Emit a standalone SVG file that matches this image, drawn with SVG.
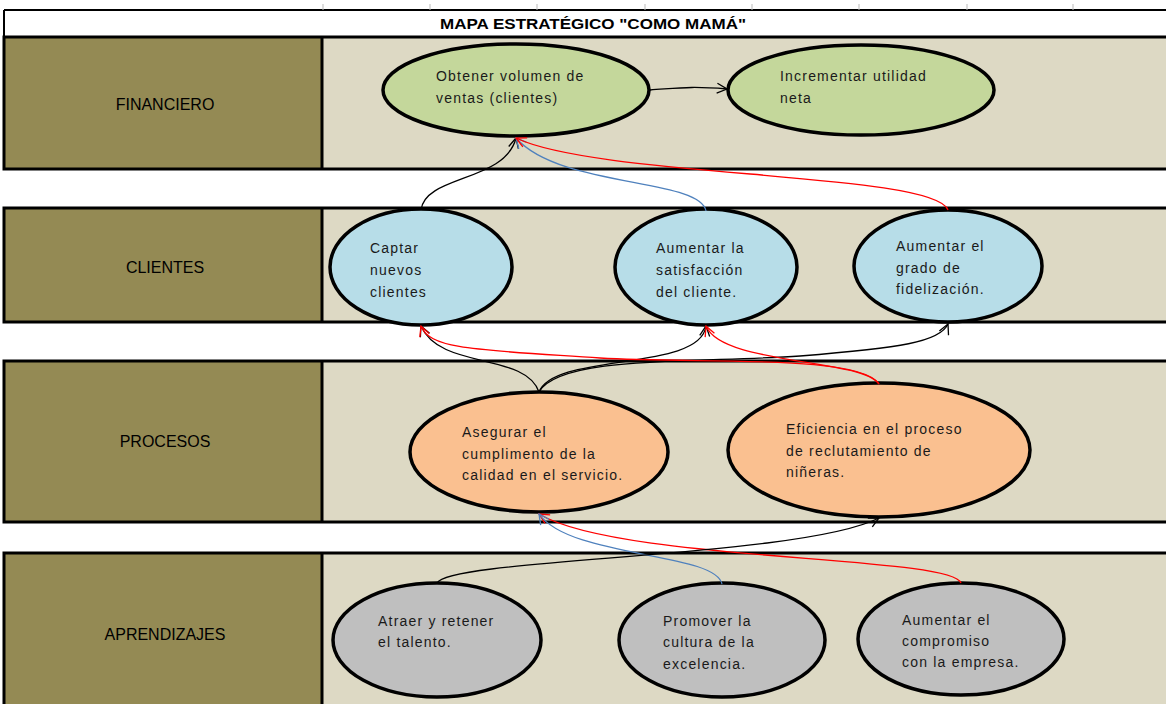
<svg xmlns="http://www.w3.org/2000/svg" width="1166" height="704" viewBox="0 0 1166 704">
<style>
.lab{fill:#948A54}
.bg{fill:#DDD9C4}
.bd{fill:none;stroke:#000;stroke-width:3}
.rowt{font-family:"Liberation Sans",Arial,sans-serif;font-size:16px;fill:#000;text-anchor:middle}
.t{font-family:"Liberation Sans",Arial,sans-serif;font-size:14px;fill:#1a1a1a;letter-spacing:1.2px}
.el{stroke:#000;stroke-width:3.5}
.c{fill:none;stroke-width:1.3}
</style>
<defs>
<marker id="ak" viewBox="0 0 12 12" refX="11" refY="6" markerWidth="12" markerHeight="12" markerUnits="userSpaceOnUse" orient="auto"><path d="M1,1 L11,6 L1,11" fill="none" stroke="#000" stroke-width="1.3"/></marker>
<marker id="ar" viewBox="0 0 12 12" refX="11" refY="6" markerWidth="12" markerHeight="12" markerUnits="userSpaceOnUse" orient="auto"><path d="M1,1 L11,6 L1,11" fill="none" stroke="#FF0000" stroke-width="1.3"/></marker>
<marker id="ab" viewBox="0 0 12 12" refX="11" refY="6" markerWidth="12" markerHeight="12" markerUnits="userSpaceOnUse" orient="auto"><path d="M1,1 L11,6 L1,11" fill="none" stroke="#4F81BD" stroke-width="1.3"/></marker>
</defs>
<rect width="1166" height="704" fill="#fff"/>
<g id="header">
<line x1="4" y1="10" x2="1166" y2="10" stroke="#000" stroke-width="2"/>
<g stroke="#bbb" stroke-width="1"><line x1="323" y1="4" x2="323" y2="10"/><line x1="430" y1="4" x2="430" y2="10"/><line x1="537" y1="4" x2="537" y2="10"/><line x1="645" y1="4" x2="645" y2="10"/><line x1="752" y1="4" x2="752" y2="10"/><line x1="859" y1="4" x2="859" y2="10"/><line x1="967" y1="4" x2="967" y2="10"/><line x1="1073" y1="4" x2="1073" y2="10"/></g>
<line x1="4" y1="10" x2="4" y2="37" stroke="#000" stroke-width="2"/>
<text x="440" y="29" font-family="'Liberation Sans',Arial,sans-serif" font-size="15" font-weight="bold" textLength="306" lengthAdjust="spacingAndGlyphs">MAPA ESTRATÉGICO "COMO MAMÁ"</text>
</g>
<g id="band-financiero">
<rect class="lab" x="4" y="37" width="318" height="132"/><rect class="bg" x="322" y="37" width="850" height="132"/>
<rect class="bd" x="4" y="37" width="1170" height="132"/><line x1="322" y1="37" x2="322" y2="169" stroke="#000" stroke-width="3"/>
<text class="rowt" x="165" y="110">FINANCIERO</text>
</g>
<g id="band-clientes">
<rect class="lab" x="4" y="208" width="318" height="114"/><rect class="bg" x="322" y="208" width="850" height="114"/>
<rect class="bd" x="4" y="208" width="1170" height="114"/><line x1="322" y1="208" x2="322" y2="322" stroke="#000" stroke-width="3"/>
<text class="rowt" x="165" y="273">CLIENTES</text>
</g>
<g id="band-procesos">
<rect class="lab" x="4" y="361" width="318" height="161"/><rect class="bg" x="322" y="361" width="850" height="161"/>
<rect class="bd" x="4" y="361" width="1170" height="161"/><line x1="322" y1="361" x2="322" y2="522" stroke="#000" stroke-width="3"/>
<text class="rowt" x="165" y="447">PROCESOS</text>
</g>
<g id="band-aprendizajes">
<rect class="lab" x="4" y="553" width="318" height="160"/><rect class="bg" x="322" y="553" width="850" height="160"/>
<rect class="bd" x="4" y="553" width="1170" height="160"/><line x1="322" y1="553" x2="322" y2="704" stroke="#000" stroke-width="3"/>
<text class="rowt" x="165" y="640">APRENDIZAJES</text>
</g>
<g id="node-volumen"><ellipse class="el" cx="516" cy="90" rx="133" ry="46" fill="#C4D79B"/><text class="t" x="436" y="81">Obtener volumen de</text><text class="t" x="436" y="103">ventas (clientes)</text></g>
<g id="node-utilidad"><ellipse class="el" cx="861" cy="90" rx="133" ry="45" fill="#C4D79B"/><text class="t" x="780" y="81">Incrementar utilidad</text><text class="t" x="780" y="103">neta</text></g>
<g id="node-captar"><ellipse class="el" cx="421" cy="267" rx="91" ry="58" fill="#B7DDE8"/><text class="t" x="370" y="253">Captar</text><text class="t" x="370" y="275">nuevos</text><text class="t" x="370" y="297">clientes</text></g>
<g id="node-satisfaccion"><ellipse class="el" cx="706" cy="267" rx="91" ry="58" fill="#B7DDE8"/><text class="t" x="656" y="253">Aumentar la</text><text class="t" x="656" y="275">satisfacción</text><text class="t" x="656" y="297">del cliente.</text></g>
<g id="node-fidelizacion"><ellipse class="el" cx="948" cy="266" rx="94" ry="56" fill="#B7DDE8"/><text class="t" x="896" y="251">Aumentar el</text><text class="t" x="896" y="273">grado de</text><text class="t" x="896" y="294">fidelización.</text></g>
<g id="node-calidad"><ellipse class="el" cx="539" cy="452" rx="129" ry="60" fill="#FAC090"/><text class="t" x="462" y="437">Asegurar el</text><text class="t" x="462" y="459">cumplimento de la</text><text class="t" x="462" y="480">calidad en el servicio.</text></g>
<g id="node-reclutamiento"><ellipse class="el" cx="879" cy="450" rx="151" ry="67" fill="#FAC090"/><text class="t" x="786" y="434">Eficiencia en el proceso</text><text class="t" x="786" y="456">de reclutamiento de</text><text class="t" x="786" y="477">niñeras.</text></g>
<g id="node-talento"><ellipse class="el" cx="437" cy="640" rx="104" ry="57" fill="#BFBFBF"/><text class="t" x="378" y="626">Atraer y retener</text><text class="t" x="378" y="647">el talento.</text></g>
<g id="node-excelencia"><ellipse class="el" cx="722" cy="640" rx="103" ry="57" fill="#BFBFBF"/><text class="t" x="663" y="626">Promover la</text><text class="t" x="663" y="647">cultura de la</text><text class="t" x="663" y="669">excelencia.</text></g>
<g id="node-compromiso"><ellipse class="el" cx="961" cy="639" rx="103" ry="56" fill="#BFBFBF"/><text class="t" x="902" y="625">Aumentar el</text><text class="t" x="902" y="646">compromiso</text><text class="t" x="902" y="667">con la empresa.</text></g>
<g id="connectors">
<path class="c" stroke="#000" d="M650,90 C680,88 690,86 727,89" marker-end="url(#ak)"/>
<path class="c" stroke="#000" d="M421,210 C425,175 505,182 516,138" marker-end="url(#ak)"/>
<path class="c" stroke="#4F81BD" d="M706,211 C700,178 560,188 516,138" marker-end="url(#ab)"/>
<path class="c" stroke="#FF0000" d="M948,210 C935,172 600,178 516,138" marker-end="url(#ar)"/>
<path class="c" stroke="#000" d="M539,392 C525,352 440,370 421,326" marker-end="url(#ak)"/>
<path class="c" stroke="#000" d="M539,392 C555,352 700,372 706,326" marker-end="url(#ak)"/>
<path class="c" stroke="#000" d="M539,392 C560,355 700,363 800,356 C900,348 940,342 948,324" marker-end="url(#ak)"/>
<path class="c" stroke="#FF0000" d="M879,384 C860,354 700,364 600,358 C480,350 430,350 421,326" marker-end="url(#ar)"/>
<path class="c" stroke="#FF0000" d="M879,384 C860,358 722,365 706,326" marker-end="url(#ar)"/>
<path class="c" stroke="#FF0000" d="M961,583 C950,555 620,562 539,514" marker-end="url(#ar)"/>
<path class="c" stroke="#4F81BD" d="M722,584 C715,552 570,558 539,514" marker-end="url(#ab)"/>
<path class="c" stroke="#000" d="M437,583 C450,558 800,558 879,518" marker-end="url(#ak)"/>
</g>
</svg>
